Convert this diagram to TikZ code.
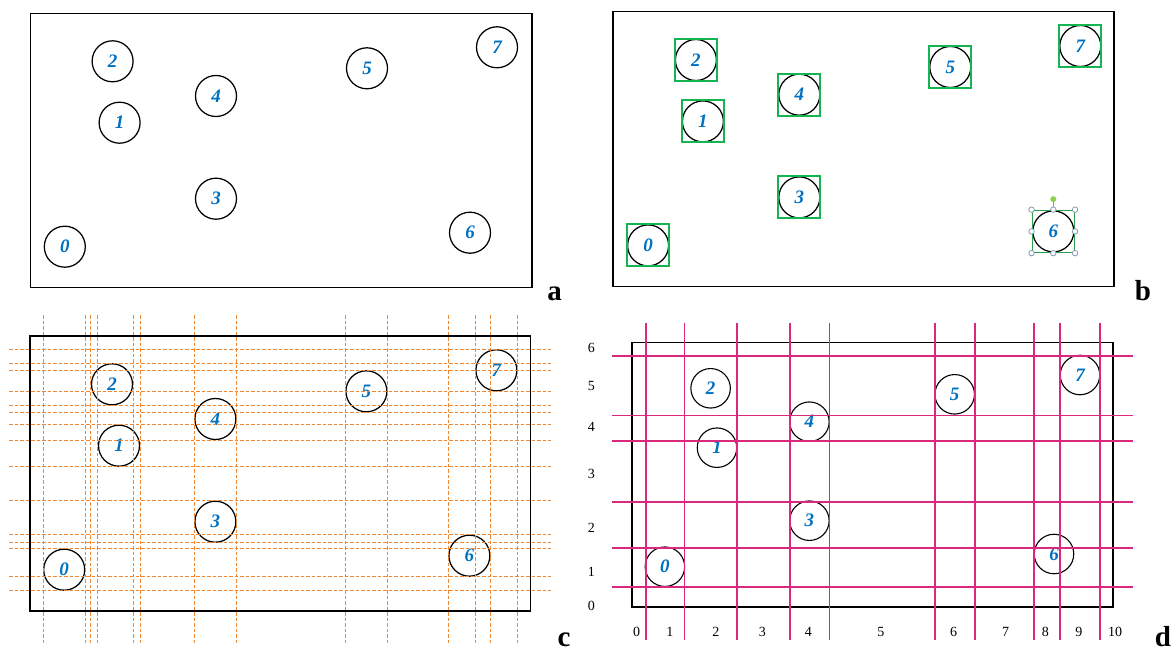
\documentclass[tikz,border=0pt]{standalone}
\usepackage{fontspec}
\setmainfont{Liberation Serif}
\definecolor{numblue}{RGB}{0,112,192}
\definecolor{boxgreen}{RGB}{20,180,80}
\definecolor{selgreen}{RGB}{40,160,80}
\definecolor{guideorange}{RGB}{240,135,50}
\definecolor{gridmagenta}{RGB}{218,40,125}
\definecolor{handlegray}{RGB}{130,155,178}
\definecolor{rotgreen}{RGB}{146,208,80}
\tikzset{
  ball/.style={circle, draw=black, line width=1.25pt, minimum size=41pt, inner sep=0pt,
    text=numblue, font=\fontsize{19}{19}\selectfont\bfseries\itshape},
  smallball/.style={ball, minimum size=39.5pt, line width=1.1pt},
  frame/.style={draw=black, line width=1.5pt},
  gbox/.style={rectangle, draw=boxgreen, line width=1.9pt, minimum size=42pt, inner sep=0pt},
  selbox/.style={rectangle, draw=selgreen, line width=1.5pt, minimum size=42pt, inner sep=0pt},
  guide/.style={draw=guideorange, line width=1pt, dash pattern=on 3.5pt off 2pt},
  gridline/.style={draw=gridmagenta, line width=1.6pt},
  panellabel/.style={font=\fontsize{29}{29}\selectfont\bfseries, anchor=base, inner sep=0pt},
  axisnum/.style={font=\fontsize{14}{14}\selectfont, inner sep=0pt},
  handle/.style={circle, draw=handlegray, fill=white, line width=0.8pt, minimum size=5.5pt, inner sep=0pt},
  rothandle/.style={circle, fill=rotgreen, minimum size=6pt, inner sep=0pt},
}
\newcommand\circleset[1]{%
  \foreach \n/\x/\y in {0/64.8/246.7, 1/119.6/122.7, 2/112.6/61.3, 3/216/198.7,
                        4/216/96, 5/367/68.3, 6/470/232.7, 7/497/47.3}
    \node[ball] (#1\n) at (\x,\y) {\n};}
\begin{document}
\begin{tikzpicture}[x=1pt, y=-1pt]
\useasboundingbox (0,0) rectangle (1172,652);

% ---------------- panel a ----------------
\draw[frame] (30.4,13.3) rectangle (532,287.3);
\circleset{a}
\node[panellabel] (la) at (554.6,300) {a};

% ---------------- panel b ----------------
\draw[frame] (613,11.7) rectangle (1114,286.7);
\begin{scope}[shift={(583.3,-1.3)}]
  \circleset{b}
\end{scope}
\foreach \n in {0,1,2,3,4,5,7}
  \node[gbox] (bs\n) at (b\n) {};
\node[selbox] (bs6) at (b6) {};
\node[rothandle] (rot6) at ([yshift=10.5pt]bs6.north) {};
\draw[handlegray, line width=0.8pt] (bs6.north) -- (rot6);
\foreach \a in {north west,north,north east,east,south east,south,south west,west}
  \node[handle] at (bs6.\a) {};
\node[panellabel] (lb) at (1143,300.5) {b};

% ---------------- panel c ----------------
\coordinate (ctop) at (0,315);
\coordinate (cbot) at (0,645);
\coordinate (cleft) at (9,0);
\coordinate (cright) at (551,0);
\begin{scope}[shift={(-0.6,323)}]
  \circleset{c}
\end{scope}
\foreach \n in {0,1,2,4,5,6,7}{
  \draw[guide] (c\n.west |- ctop) -- (c\n.west |- cbot);
  \draw[guide] (c\n.east |- ctop) -- (c\n.east |- cbot);
}
\foreach \n in {0,1,2,3,5,6,7}{
  \draw[guide] (cleft |- c\n.north) -- (cright |- c\n.north);
}
\foreach \n in {0,1,2,3,4,5,6,7}{
  \draw[guide] (cleft |- c\n.south) -- (cright |- c\n.south);
}
\draw[frame] (29.8,336) rectangle (530.5,611);
\node[panellabel] (lc) at (564,646) {c};

% ---------------- panel d ----------------
\draw[frame] (632.1,342.5) rectangle (1113.2,607);
\foreach \n/\x/\y in {0/664.9/566.7, 1/717/447.7, 2/710.6/388.3, 3/809.4/520.7,
                      4/809.4/421.7, 5/954.7/394.3, 6/1054/554, 7/1080/375}
  \node[smallball] (d\n) at (\x,\y) {\n};
\foreach \x in {645.7,684.5,737,790.2,829.4,935.1,975.1,1034,1060,1100}
  \draw[gridline] (\x,322.7) -- (\x,640);
\foreach \y in {355.7,415.3,441,501.7,547.7,587}
  \draw[gridline] (612.1,\y) -- (1132.8,\y);
\foreach \t/\y in {6/348.3,5/386,4/427.3,3/474,2/528.3,1/572.3,0/606}
  \node[axisnum] (dl\t) at (591.3,\y) {\t};
\foreach \t/\x in {0/636.6,1/669.8,2/715.8,3/762.3,4/808.3,5/880.8,6/953.6,7/1005.7,8/1045.3,9/1078.9,10/1115}
  \node[axisnum, anchor=base] (db\t) at (\x,636) {\t};
\node[panellabel] (ld) at (1163,646) {d};
\end{tikzpicture}
\end{document}
